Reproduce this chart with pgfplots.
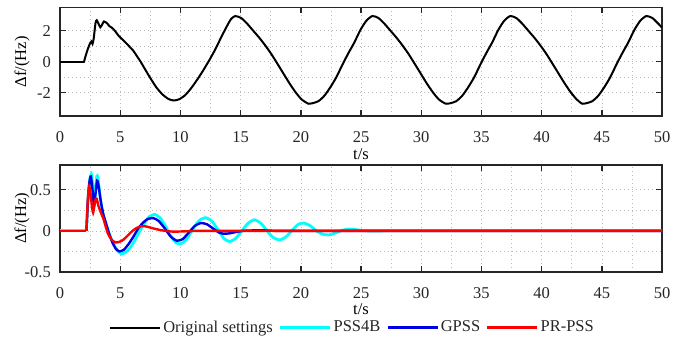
\documentclass[border=0pt]{standalone}
\usepackage{pgfplots}
\pgfplotsset{compat=1.18}
\usepackage{fontspec}
\setmainfont{Liberation Serif}
\definecolor{pcyan}{RGB}{0,255,255}
\definecolor{pblue}{RGB}{0,0,230}
\definecolor{pred}{RGB}{255,0,0}
\begin{document}
\fontsize{16.5}{19}\selectfont
\begin{tikzpicture}
\useasboundingbox (0,0) rectangle (682pt,337pt);
\pgfplotsset{
  myax/.style={
    scale only axis, width=602pt, anchor=south west,
    xmin=0, xmax=50, xtick={0,5,...,50}, minor x tick num=1,
    grid=both,
    major grid style={line width=0.6pt, gray!55, dash pattern=on 1pt off 3pt},
    minor grid style={line width=0.6pt, gray!55, dash pattern=on 1pt off 3pt},
    major tick length=6pt, minor tick length=0pt,
    axis line style={line width=1.4pt, black!85},
    every tick/.style={line width=1.4pt, black!85},
    tick align=inside, tick pos=both,
    xticklabel pos=lower, yticklabel pos=left,
    /pgf/number format/assume math mode=true,
    /pgf/number format/fixed,
    ticklabel style={font=\fontsize{16.5}{19}\selectfont, text=black!85},
    xticklabel style={yshift=-10pt},
    yticklabel style={xshift=-3.5pt},
    label style={font=\fontsize{16.5}{19}\selectfont, text=black!85},
    every axis y label/.style={at={(axis description cs:-0.063,0.5)}, rotate=90, anchor=center},
    xlabel={t/s}, ylabel={Δf/(Hz)},
  }
}
\begin{axis}[myax, at={(60pt,221pt)}, height=108.5pt,
  ymin=-3.5, ymax=3.5, ytick={-2,0,2}, minor y tick num=1,
  every axis x label/.style={at={(axis description cs:0.5,-0.35)}, anchor=center}]
\addplot[black, line width=2pt, line cap=round] coordinates {(0,0) (2.0,0)};
\addplot[black, line width=2pt, smooth, tension=0.4] coordinates {
(2.0,0) (2.1,0.3) (2.3,0.8) (2.5,1.2) (2.6,1.3) (2.7,1.15) (2.8,1.5) (2.95,2.5) (3.05,2.68)
(3.2,2.45) (3.35,2.22) (3.5,2.4) (3.65,2.6) (3.8,2.55) (3.95,2.45) (4.1,2.3) (4.3,2.2) (4.5,2.05)
(4.7,1.85) (4.9,1.65) (5.1,1.5) (5.3,1.35) (5.5,1.2) (5.8,0.95) (6.1,0.7) (6.4,0.35) (6.7,0.0)
(7.0,-0.4) (7.5,-1.05) (8.0,-1.65) (8.5,-2.1) (9.0,-2.4) (9.45,-2.5) (9.9,-2.42) (10.4,-2.15)
(10.9,-1.7) (11.4,-1.15) (11.9,-0.55) (12.4,0.1) (12.9,0.8) (13.4,1.6) (13.9,2.35) (14.2,2.75) (14.55,2.95)
(15.05,2.82) (15.55,2.45) (16.05,2.0) (16.55,1.55) (17.05,1.05) (17.55,0.5) (18.05,-0.12) (18.55,-0.75)
(19.05,-1.38) (19.55,-1.95) (20.05,-2.42) (20.55,-2.68) (20.65,-2.71)
(20.95,-2.68) (21.45,-2.55) (21.95,-2.2) (22.45,-1.65) (22.95,-1.0) (23.45,-0.2) (23.95,0.55)
(24.45,1.25) (24.95,2.05) (25.45,2.65) (25.95,2.95)
(26.45,2.82) (26.95,2.45) (27.45,2.0) (27.95,1.55) (28.45,1.05) (28.95,0.5) (29.45,-0.12) (29.95,-0.75)
(30.45,-1.38) (30.95,-1.95) (31.45,-2.42) (31.95,-2.68) (32.1,-2.71)
(32.4,-2.68) (32.9,-2.55) (33.4,-2.2) (33.9,-1.65) (34.4,-1.0) (34.9,-0.2) (35.4,0.55) (35.9,1.25)
(36.4,2.05) (36.9,2.65) (37.4,2.95)
(37.9,2.82) (38.4,2.45) (38.9,2.0) (39.4,1.55) (39.9,1.05) (40.4,0.5) (40.9,-0.12) (41.4,-0.75)
(41.9,-1.38) (42.4,-1.95) (42.9,-2.42) (43.3,-2.68) (43.4,-2.71)
(43.7,-2.68) (44.2,-2.55) (44.7,-2.2) (45.2,-1.65) (45.7,-1.0) (46.2,-0.2) (46.7,0.55) (47.2,1.25)
(47.7,2.05) (48.2,2.65) (48.7,2.95) (49.2,2.82) (49.7,2.45) (50,2.2)
};
\end{axis}
\begin{axis}[myax, at={(60pt,65pt)}, height=107pt,
  ymin=-0.5, ymax=0.8, ytick={-0.5,0,0.5}, minor y tick num=1,
  every axis x label/.style={at={(axis description cs:0.5,-0.35)}, anchor=center},
  legend columns=4,
  legend style={draw=none, fill=none, at={(axis description cs:0.486,-0.52)}, anchor=center,
    font=\fontsize{16.5}{19}\selectfont, text=black!85, inner sep=0pt,
    /tikz/every even column/.append style={column sep=4pt}},
  legend image code/.code={\draw[#1] (0pt,0pt) -- (50pt,0pt);}]
\addlegendimage{black, line width=2pt}
\addlegendentry{Original settings}
\addplot[pcyan, line width=2.8pt, forget plot] coordinates {(0,0) (2.2,0)};
\addplot[pcyan, line width=2.8pt, smooth, tension=0.35] coordinates {
(2.2,0) (2.3,0.3) (2.45,0.6) (2.6,0.69) (2.72,0.55) (2.85,0.36) (2.95,0.5) (3.05,0.66) (3.15,0.65)
(3.3,0.45) (3.5,0.25) (3.7,0.14) (3.9,0.05) (4.15,-0.06) (4.45,-0.16) (4.75,-0.24) (5.1,-0.28)
(5.45,-0.26) (5.8,-0.21) (6.2,-0.12) (6.6,-0.01) (7.0,0.09) (7.4,0.17) (7.85,0.2) (8.3,0.16)
(8.75,0.06) (9.2,-0.06) (9.6,-0.14) (10.0,-0.16) (10.4,-0.12) (10.8,-0.04) (11.2,0.06) (11.6,0.13)
(12.1,0.16) (12.6,0.12) (13.1,0.02) (13.6,-0.09) (14.1,-0.13) (14.6,-0.09) (15.1,0.0) (15.6,0.09)
(16.15,0.135) (16.7,0.09) (17.2,0.0) (17.7,-0.08) (18.25,-0.11) (18.8,-0.07) (19.3,0.01) (19.8,0.08)
(20.25,0.095) (20.8,0.06) (21.3,0.0) (21.8,-0.04) (22.3,-0.05) (22.8,-0.03) (23.3,0.0) (23.8,0.02)
(24.3,0.02) (24.8,0.01) (25.5,0) (27,0) (30,0) (50,0)
};
\addlegendentry{PSS4B}
\addplot[pblue, line width=2.4pt, forget plot] coordinates {(0,0) (2.2,0)};
\addplot[pblue, line width=2.4pt, smooth, tension=0.35] coordinates {
(2.2,0) (2.3,0.33) (2.45,0.6) (2.57,0.66) (2.7,0.5) (2.82,0.3) (2.95,0.45) (3.08,0.61) (3.2,0.55)
(3.4,0.35) (3.6,0.2) (3.8,0.1) (4.05,-0.02) (4.35,-0.14) (4.65,-0.22) (4.95,-0.25) (5.3,-0.23)
(5.7,-0.16) (6.1,-0.07) (6.5,0.03) (6.9,0.1) (7.3,0.145) (7.75,0.155) (8.2,0.12) (8.7,0.03)
(9.2,-0.07) (9.7,-0.12) (10.2,-0.1) (10.7,-0.02) (11.2,0.06) (11.7,0.095) (12.2,0.08) (12.7,0.03)
(13.2,-0.02) (13.6,-0.035) (14.1,-0.03) (14.6,-0.015) (15.2,0.0) (16,0.005) (17,0.005) (18,0) (20,0) (30,0) (50,0)
};
\addlegendentry{GPSS}
\addplot[pred, line width=2.4pt, forget plot] coordinates {(0,0) (2.2,0)};
\addplot[pred, line width=2.4pt, smooth, tension=0.35] coordinates {
(2.2,0) (2.27,0.25) (2.34,0.45) (2.42,0.54) (2.52,0.48) (2.65,0.3) (2.75,0.22) (2.85,0.3)
(2.95,0.38) (3.05,0.39) (3.2,0.3) (3.4,0.22) (3.6,0.15) (3.8,0.05) (4.0,-0.04) (4.3,-0.11) (4.6,-0.14)
(4.9,-0.135) (5.25,-0.11) (5.6,-0.06) (5.95,-0.01) (6.3,0.03) (6.7,0.055) (7.1,0.055) (7.5,0.04)
(7.9,0.024) (8.4,0.008) (9.0,-0.005) (9.5,-0.01) (10.5,-0.005) (11.5,0) (13,0) (30,0) (50,0)
};
\addlegendentry{PR-PSS}
\end{axis}
\end{tikzpicture}
\end{document}
